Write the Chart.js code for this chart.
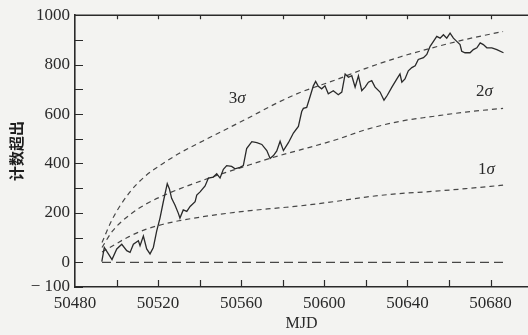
<!DOCTYPE html>
<html>
<head>
<meta charset="utf-8">
<script src="https://cdn.jsdelivr.net/npm/chart.js@4/dist/chart.umd.min.js"></script>
<style>
  html, body { margin: 0; padding: 0; background: #f3f3f1; }
  #wrap { width: 528px; height: 335px; }
</style>
</head>
<body>
<div id="wrap"><canvas id="chart" width="528" height="335"></canvas></div>
<script>
// Observed light curve (MJD vs counts above background)
const mjd = [
  50492.9, 50494.1, 50496.0, 50497.8, 50500.1, 50502.5, 50504.9, 50506.5, 50508.1, 50510.5,
  50511.3, 50512.9, 50514.5, 50516.1, 50517.7, 50519.3, 50520.9, 50522.5, 50524.4, 50525.4,
  50526.5, 50528.1, 50529.7, 50530.5, 50532.1, 50533.8, 50535.4, 50537.8, 50538.6, 50540.2,
  50542.6, 50544.2, 50546.6, 50548.2, 50549.8, 50551.4, 50553.0, 50555.4, 50557.0, 50559.4,
  50561.0, 50562.6, 50565.1, 50567.5, 50569.9, 50572.3, 50573.9, 50575.5, 50577.1, 50578.7,
  50580.3, 50582.7, 50585.1, 50587.5, 50589.1, 50589.9, 50591.5, 50593.1, 50594.7, 50595.8,
  50597.1, 50598.7, 50600.3, 50601.9, 50604.3, 50606.7, 50608.4, 50610.0, 50611.6, 50613.2,
  50614.8, 50616.4, 50618.0, 50619.6, 50621.2, 50622.8, 50624.4, 50626.8, 50628.7, 50630.3,
  50632.5, 50634.9, 50636.4, 50637.3, 50638.8, 50640.4, 50642.1, 50643.7, 50645.2, 50647.7,
  50649.3, 50650.9, 50652.5, 50654.1, 50655.7, 50657.3, 50658.9, 50660.5, 50662.1, 50663.7,
  50665.3, 50666.1, 50667.7, 50670.1, 50671.7, 50673.4, 50675.0, 50676.5, 50678.2, 50680.6,
  50683.0, 50686.2
];
const counts = [
  3, 60, 35, 11, 54, 73, 47, 40, 73, 87,
  67, 106, 54, 34, 60, 126, 179, 245, 318, 298,
  259, 232, 199, 179, 212, 206, 226, 245, 272, 285,
  309, 341, 345, 358, 341, 376, 391, 388, 378, 384,
  391, 460, 488, 484, 477, 452, 420, 432, 451, 490,
  452, 484, 523, 550, 610, 623, 627, 670, 714, 732,
  712, 702, 714, 682, 694, 678, 689, 762, 749, 755,
  709, 755, 695, 709, 729, 735, 709, 689, 656, 676,
  709, 742, 762, 729, 742, 775, 788, 795, 821, 828,
  841, 874, 894, 914, 907, 921, 907, 927, 907, 894,
  881, 854, 848, 848, 861, 868, 888, 881, 868, 868,
  861, 848
];

// Significance curves
const sigmaMjd = [50493, 50498, 50506, 50514, 50522, 50530, 50546, 50562, 50578, 50588, 50606, 50620, 50636, 50652, 50668, 50686];
const sigma3 = [80, 175, 280, 350, 398, 440, 510, 578, 648, 686, 740, 785, 830, 868, 902, 934];
const sigma2 = [60, 126, 190, 235, 268, 296, 345, 389, 431, 454, 497, 537, 570, 590, 608, 623];
const sigma1 = [42, 66, 104, 133, 153, 168, 190, 207, 220, 228, 247, 264, 278, 287, 298, 312];

// Zero level
const zeroMjd = [50493, 50687];
const zeroLevel = [0, 0];

// Curve labels
const sigmaNames = ['3', '2', '1'];
const sigmaLabelMjd = [50558, 50677, 50678];
const sigmaLabelCounts = [662, 690, 375];

// Axis ticks
const xTicks = [50480, 50500, 50520, 50540, 50560, 50580, 50600, 50620, 50640, 50660, 50680];
const xLabelled = [50480, 50520, 50560, 50600, 50640, 50680];
const yTicks = [-100, 0, 100, 200, 300, 400, 500, 600, 700, 800, 900, 1000];
const yLabelled = [-100, 0, 200, 400, 600, 800, 1000];

function toPoints(xs, ys) {
  return xs.map(function (x, i) { return { x: x, y: ys[i] }; });
}

const ink = '#2a2a2a';
const serif = "'Liberation Serif', 'DejaVu Serif', serif";

// Inward tick marks, top frame line, and sigma labels
const framePlugin = {
  id: 'frame',
  afterDraw: function (chart) {
    const ctx = chart.ctx;
    const area = chart.chartArea;
    const xs = chart.scales.x;
    const ys = chart.scales.y;
    ctx.save();
    ctx.strokeStyle = ink;
    ctx.lineWidth = 1.6;
    ctx.beginPath();
    ctx.moveTo(area.left, area.top);
    ctx.lineTo(area.right, area.top);
    ctx.stroke();

    ctx.lineWidth = 1.2;
    ctx.beginPath();
    yTicks.forEach(function (v) {
      const py = Math.round(ys.getPixelForValue(v)) + 0.5;
      ctx.moveTo(area.left, py);
      ctx.lineTo(area.left + 8, py);
    });
    xTicks.forEach(function (v) {
      const px = Math.round(xs.getPixelForValue(v)) + 0.5;
      if (px <= area.left + 1) return;
      ctx.moveTo(px, area.bottom);
      ctx.lineTo(px, area.bottom - 7);
      ctx.moveTo(px, area.top);
      ctx.lineTo(px, area.top + 4);
    });
    ctx.stroke();

    ctx.fillStyle = '#2a2a2a';
    ctx.textBaseline = 'middle';
    sigmaNames.forEach(function (n, i) {
      const px = xs.getPixelForValue(sigmaLabelMjd[i]);
      const py = ys.getPixelForValue(sigmaLabelCounts[i]);
      ctx.font = '17px ' + serif;
      const w1 = ctx.measureText(n).width;
      ctx.font = 'italic 17px ' + serif;
      const w2 = ctx.measureText('σ').width;
      const x0 = px - (w1 + w2) / 2;
      ctx.font = '17px ' + serif;
      ctx.textAlign = 'left';
      ctx.fillText(n, x0, py);
      ctx.font = 'italic 17px ' + serif;
      ctx.fillText('σ', x0 + w1, py);
    });
    ctx.restore();
  }
};

const dashed = function (label, pts, dash) {
  return {
    label: label,
    data: pts,
    borderColor: '#474747',
    borderWidth: 1.2,
    borderDash: dash,
    pointRadius: 0,
    fill: false,
    cubicInterpolationMode: 'monotone'
  };
};

new Chart(document.getElementById('chart'), {
  type: 'line',
  data: {
    datasets: [
      {
        label: 'counts',
        data: toPoints(mjd, counts),
        borderColor: ink,
        borderWidth: 1.3,
        pointRadius: 0,
        tension: 0,
        fill: false
      },
      dashed('3σ', toPoints(sigmaMjd, sigma3), [5, 4]),
      dashed('2σ', toPoints(sigmaMjd, sigma2), [5, 4]),
      dashed('1σ', toPoints(sigmaMjd, sigma1), [5, 4]),
      dashed('0', toPoints(zeroMjd, zeroLevel), [9, 5])
    ]
  },
  options: {
    responsive: false,
    animation: false,
    devicePixelRatio: 1,
    layout: { padding: { top: 10, right: 0, left: 0, bottom: 0 } },
    plugins: {
      legend: { display: false },
      tooltip: { enabled: false }
    },
    scales: {
      x: {
        type: 'linear',
        min: 50480,
        max: 50698,
        afterBuildTicks: function (scale) {
          scale.ticks = xTicks.map(function (v) { return { value: v }; });
        },
        afterFit: function (scale) { scale.height = 48; },
        grid: { display: true, drawOnChartArea: false, drawTicks: false },
        border: { display: true, color: ink, width: 1.6 },
        ticks: {
          padding: 6,
          color: '#2a2a2a',
          font: { family: serif, size: 17 },
          maxRotation: 0,
          autoSkip: false,
          callback: function (v) { return xLabelled.indexOf(v) >= 0 ? String(v) : ''; }
        },
        title: {
          display: true,
          text: 'MJD',
          color: '#2a2a2a',
          font: { family: serif, size: 16 },
          padding: { top: 0, bottom: 2 }
        }
      },
      y: {
        min: -100,
        max: 1000,
        afterBuildTicks: function (scale) {
          scale.ticks = yTicks.map(function (v) { return { value: v }; });
        },
        afterFit: function (scale) { scale.width = 75; },
        grid: { display: true, drawOnChartArea: false, drawTicks: false },
        border: { display: true, color: ink, width: 1.6 },
        ticks: {
          padding: 5,
          color: '#2a2a2a',
          font: { family: serif, size: 17 },
          autoSkip: false,
          callback: function (v) {
            if (yLabelled.indexOf(v) < 0) return '';
            return v < 0 ? '\u2212 ' + Math.abs(v) : String(v);
          }
        },
        title: {
          display: true,
          text: '计数超出',
          color: '#1e1e1e',
          font: { family: "'Noto Sans CJK SC', sans-serif", size: 15, weight: 'bold' },
          padding: { top: 7, bottom: 0 }
        }
      }
    }
  },
  plugins: [framePlugin]
});
</script>
</body>
</html>
